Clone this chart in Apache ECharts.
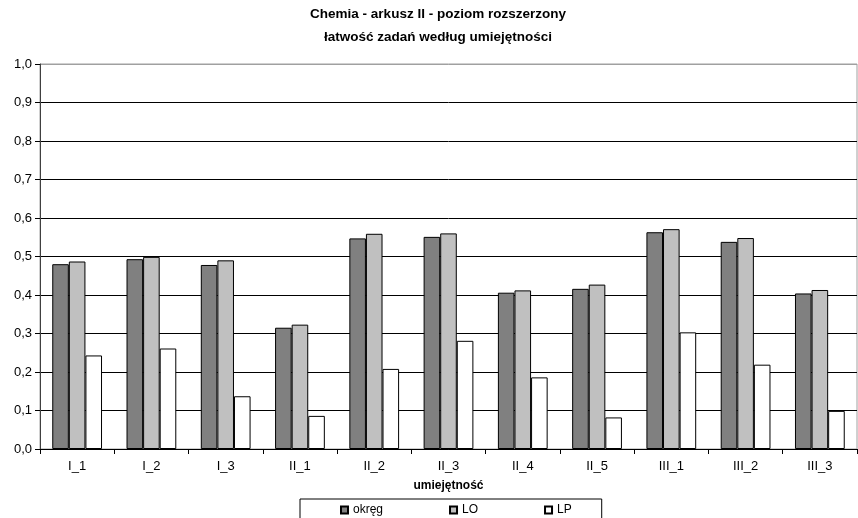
<!DOCTYPE html>
<html>
<head>
<meta charset="utf-8">
<script src="https://cdn.jsdelivr.net/npm/echarts@6/dist/echarts.min.js"></script>
<style>html,body{margin:0;padding:0;background:#fff}#c{width:858px;height:518px}</style>
</head>
<body>
<div id="c"></div>
<script>
var categories = ['I_1','I_2','I_3','II_1','II_2','II_3','II_4','II_5','III_1','III_2','III_3'];
var okreg = [0.480,0.493,0.478,0.315,0.547,0.551,0.406,0.416,0.563,0.538,0.404];
var LO    = [0.487,0.499,0.490,0.323,0.559,0.560,0.412,0.427,0.571,0.548,0.413];
var LP    = [0.243,0.261,0.137,0.086,0.208,0.281,0.186,0.082,0.303,0.219,0.099];
var seriesNames = ['okręg','LO','LP'];
var titleLines = ['Chemia - arkusz II - poziom rozszerzony','łatwość zadań według umiejętności'];
var xAxisName = 'umiejętność';

var font = 'Liberation Sans, Arial, sans-serif';
var chart = echarts.init(document.getElementById('c'), null, {renderer:'canvas'});
function bar(name, data, color){
  return {
    name: name, type: 'bar', data: data,
    barGap: '0%', barCategoryGap: '33%',
    itemStyle: {color: color, borderColor: '#000', borderWidth: 1},
    emphasis: {disabled: true}, animation: false
  };
}
var splitColors = [];
for (var i = 0; i < 10; i++) splitColors.push('#000');
splitColors.push('#a0a0a0');
chart.setOption({
  animation: false,
  textStyle: {fontFamily: font},
  title: {
    text: titleLines.join('\n'),
    left: 438, top: 3, textAlign: 'center', padding: 0,
    textStyle: {fontFamily: font, fontSize: 13.5, fontWeight: 'bold', color: '#000', lineHeight: 23}
  },
  grid: {left: 40, right: 1, top: 64, bottom: 69, show: true, borderColor: '#a0a0a0', borderWidth: 1},
  legend: {
    data: seriesNames,
    left: 300, top: 499,
    padding: [5, 30, 20, 40],
    itemGap: 66, itemWidth: 7, itemHeight: 7,
    icon: 'rect',
    borderColor: '#000', borderWidth: 1,
    textStyle: {fontFamily: font, fontSize: 12, color: '#000'}
  },
  xAxis: {
    type: 'category', data: categories,
    axisLine: {lineStyle: {color: '#000', width: 1}},
    axisTick: {show: true, length: 5, lineStyle: {color: '#000'}},
    axisLabel: {fontFamily: font, fontSize: 13, color: '#000', margin: 11},
    name: xAxisName, nameLocation: 'middle', nameGap: 31,
    nameTextStyle: {fontFamily: font, fontSize: 12, fontWeight: 'bold', color: '#000'}
  },
  yAxis: {
    type: 'value', min: 0, max: 1, interval: 0.1,
    axisLine: {show: true, lineStyle: {color: '#404040', width: 1}},
    axisTick: {show: true, length: 5, lineStyle: {color: '#000'}},
    axisLabel: {fontFamily: font, fontSize: 13, color: '#000', margin: 8,
      formatter: function(v){ return v.toFixed(1).replace('.', ','); }},
    splitLine: {lineStyle: {color: splitColors, width: 1}}
  },
  series: [bar(seriesNames[0], okreg, '#808080'), bar(seriesNames[1], LO, '#c0c0c0'), bar(seriesNames[2], LP, '#ffffff')]
});
</script>
</body>
</html>
